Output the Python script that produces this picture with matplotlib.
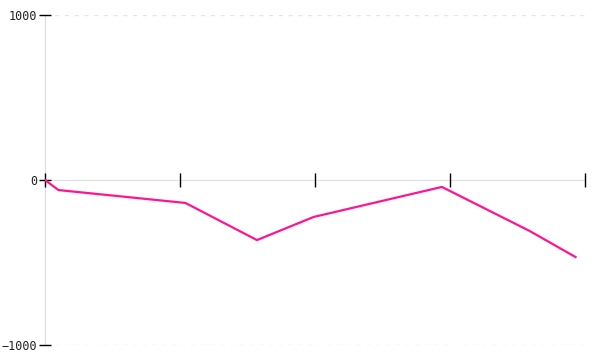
import matplotlib
matplotlib.use("Agg")
import matplotlib.pyplot as plt

x_vals = [0.0, 0.10, 1.04, 1.57, 1.99, 2.94, 3.59, 3.93]
y_vals = [0, -61, -139, -364, -224, -42, -309, -467]
x_ticks = [0, 1, 2, 3, 4]
y_ticks = [-1000, 0, 1000]
y_labels = ["−1000", "0", "1000"]

fig = plt.figure(figsize=(6, 3.6), dpi=100)
ax = fig.add_axes([45/600, 15/360, 540/600, 330/360])
ax.set_xlim(0, 4)
ax.set_ylim(-1000, 1000)

for yv in [1000, -1000]:
    ax.axhline(yv, color="#e6e6e6", lw=1, ls=(0, (3, 4)), zorder=0)

ax.plot(x_vals, y_vals, color="#ff1493", lw=1.6, zorder=3, solid_joinstyle="miter")

for s in ["top", "right"]:
    ax.spines[s].set_visible(False)
ax.spines["left"].set_color("#dddddd")
ax.spines["left"].set_zorder(0.5)
ax.spines["bottom"].set_position(("data", 0))
ax.spines["bottom"].set_color("#dddddd")
ax.spines["bottom"].set_zorder(0.5)

ax.set_xticks(x_ticks)
ax.set_xticklabels([])
ax.tick_params(axis="x", direction="inout", length=10, width=1, color="black")
ax.set_yticks(y_ticks)
ax.set_yticklabels(y_labels, family="DejaVu Sans Mono", fontsize=8.5, color="#222222")
ax.tick_params(axis="y", direction="inout", length=9, width=1, color="black", pad=1)

fig.savefig("out.png", dpi=100)
